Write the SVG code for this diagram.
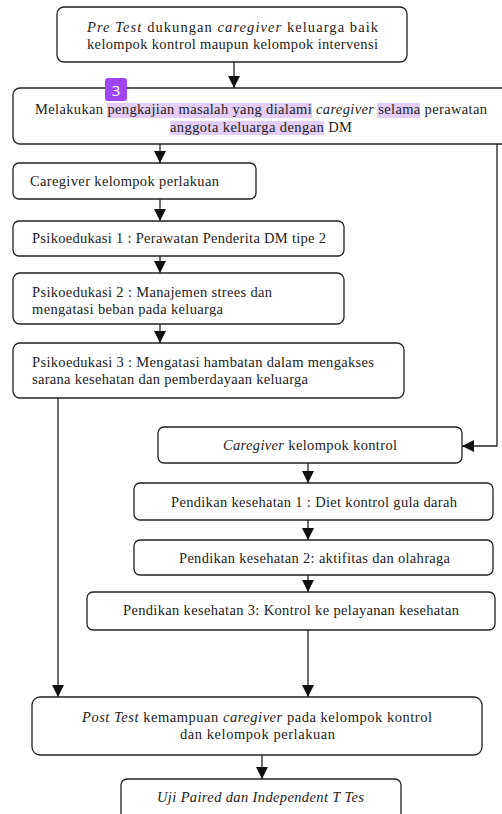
<svg xmlns="http://www.w3.org/2000/svg" width="502" height="814" viewBox="0 0 502 814">
<style>
.box{fill:#fff;stroke:#222;stroke-width:1.3}
.t{font-family:'Liberation Serif','DejaVu Serif','Times New Roman',serif;font-size:14.5px;fill:#222}
.i{font-style:italic}
.c{stroke:#222;stroke-width:1.3;fill:none}
.hl{fill:#e4cdf6}
</style>
<defs>
<marker id="ah" markerUnits="userSpaceOnUse" markerWidth="13" markerHeight="13" refX="12" refY="6.5" orient="auto">
<path d="M0,0.5 L12,6.5 L0,12.5 Z" fill="#111"/>
</marker>
<clipPath id="clip5"><rect x="0" y="273" width="502" height="43.5"/></clipPath>
</defs>
<rect width="502" height="814" fill="#fff"/>

<g id="connectors">
<line class="c" x1="234" y1="62" x2="234" y2="88" marker-end="url(#ah)"/>
<line class="c" x1="160" y1="144" x2="160" y2="163" marker-end="url(#ah)"/>
<line class="c" x1="160" y1="199" x2="160" y2="221" marker-end="url(#ah)"/>
<line class="c" x1="160" y1="256" x2="160" y2="273" marker-end="url(#ah)"/>
<line class="c" x1="160" y1="324" x2="160" y2="343" marker-end="url(#ah)"/>
<line class="c" x1="58" y1="398" x2="58" y2="697" marker-end="url(#ah)"/>
<polyline class="c" points="497,144 497,446 462,446" marker-end="url(#ah)"/>
<line class="c" x1="308" y1="463" x2="308" y2="483" marker-end="url(#ah)"/>
<line class="c" x1="308" y1="520" x2="308" y2="540" marker-end="url(#ah)"/>
<line class="c" x1="308" y1="575" x2="308" y2="592" marker-end="url(#ah)"/>
<line class="c" x1="308" y1="630" x2="308" y2="697" marker-end="url(#ah)"/>
<line class="c" x1="262" y1="755" x2="262" y2="779" marker-end="url(#ah)"/>
</g>

<g id="n1">
<rect class="box" x="57" y="7" width="350" height="55" rx="7"/>
<text class="t" x="87" y="32" textLength="291" lengthAdjust="spacing"><tspan class="i">Pre Test</tspan> dukungan  <tspan class="i">caregiver</tspan> keluarga baik</text>
<text class="t" x="87" y="49" textLength="291" lengthAdjust="spacing">kelompok kontrol maupun kelompok intervensi</text>
</g>

<g id="n2">
<rect class="box" x="13" y="88" width="500" height="56" rx="7"/>
<rect class="hl" x="107" y="103" width="205" height="15"/>
<rect class="hl" x="377" y="103" width="43" height="15"/>
<rect class="hl" x="170" y="121" width="154" height="14"/>
<text class="t" x="35" y="114" textLength="452" lengthAdjust="spacing">Melakukan pengkajian masalah yang dialami <tspan class="i">caregiver</tspan> selama perawatan</text>
<text class="t" x="170" y="132" textLength="182" lengthAdjust="spacing">anggota keluarga dengan DM</text>
<rect x="105" y="78" width="22" height="23" rx="3" fill="#a044f2"/>
<text x="116" y="96" text-anchor="middle" font-family="'Open Sans','DejaVu Sans',sans-serif" font-size="15" fill="#fff">3</text>
</g>

<g id="n3">
<rect class="box" x="13" y="163" width="243" height="36" rx="6"/>
<text class="t" x="30" y="186" textLength="189" lengthAdjust="spacing">Caregiver kelompok perlakuan</text>
</g>

<g id="n4">
<rect class="box" x="13" y="221" width="331" height="35" rx="6"/>
<text class="t" x="32" y="243" textLength="294" lengthAdjust="spacing">Psikoedukasi 1 : Perawatan Penderita DM tipe 2</text>
</g>

<g id="n5">
<rect class="box" x="13" y="273" width="331" height="51" rx="7"/>
<text class="t" x="32" y="297" textLength="240" lengthAdjust="spacing">Psikoedukasi 2 : Manajemen strees dan</text>
<text class="t" x="32" y="314" textLength="191" lengthAdjust="spacing" clip-path="url(#clip5)">mengatasi beban pada keluarga</text>
</g>

<g id="n6">
<rect class="box" x="13" y="343" width="391" height="55" rx="7"/>
<text class="t" x="32" y="367" textLength="342" lengthAdjust="spacing">Psikoedukasi 3 : Mengatasi hambatan dalam mengakses</text>
<text class="t" x="32" y="384" textLength="276" lengthAdjust="spacing">sarana kesehatan dan pemberdayaan keluarga</text>
</g>

<g id="n7">
<rect class="box" x="158" y="427" width="304" height="36" rx="6"/>
<text class="t" x="223" y="450" textLength="174" lengthAdjust="spacing"><tspan class="i">Caregiver</tspan> kelompok kontrol</text>
</g>

<g id="n8">
<rect class="box" x="134" y="483" width="359" height="37" rx="6"/>
<text class="t" x="171" y="507" textLength="286" lengthAdjust="spacing">Pendikan kesehatan 1 : Diet kontrol gula darah</text>
</g>

<g id="n9">
<rect class="box" x="134" y="540" width="359" height="35" rx="6"/>
<text class="t" x="179" y="563" textLength="271" lengthAdjust="spacing">Pendikan kesehatan 2: aktifitas dan olahraga</text>
</g>

<g id="n10">
<rect class="box" x="87" y="592" width="408" height="38" rx="6"/>
<text class="t" x="123" y="615" textLength="336" lengthAdjust="spacing">Pendikan kesehatan 3: Kontrol ke pelayanan kesehatan</text>
</g>

<g id="n11">
<rect class="box" x="32" y="697" width="450" height="58" rx="8"/>
<text class="t" x="82" y="722" textLength="350" lengthAdjust="spacing"><tspan class="i">Post  Test</tspan> kemampuan <tspan class="i">caregiver</tspan> pada  kelompok kontrol</text>
<text class="t" x="180" y="739" textLength="155" lengthAdjust="spacing">dan  kelompok perlakuan</text>
</g>

<g id="n12">
<rect class="box" x="121" y="779" width="280" height="50" rx="6"/>
<text class="t i" x="157" y="802" textLength="207" lengthAdjust="spacing">Uji Paired dan Independent T Tes</text>
</g>
</svg>
